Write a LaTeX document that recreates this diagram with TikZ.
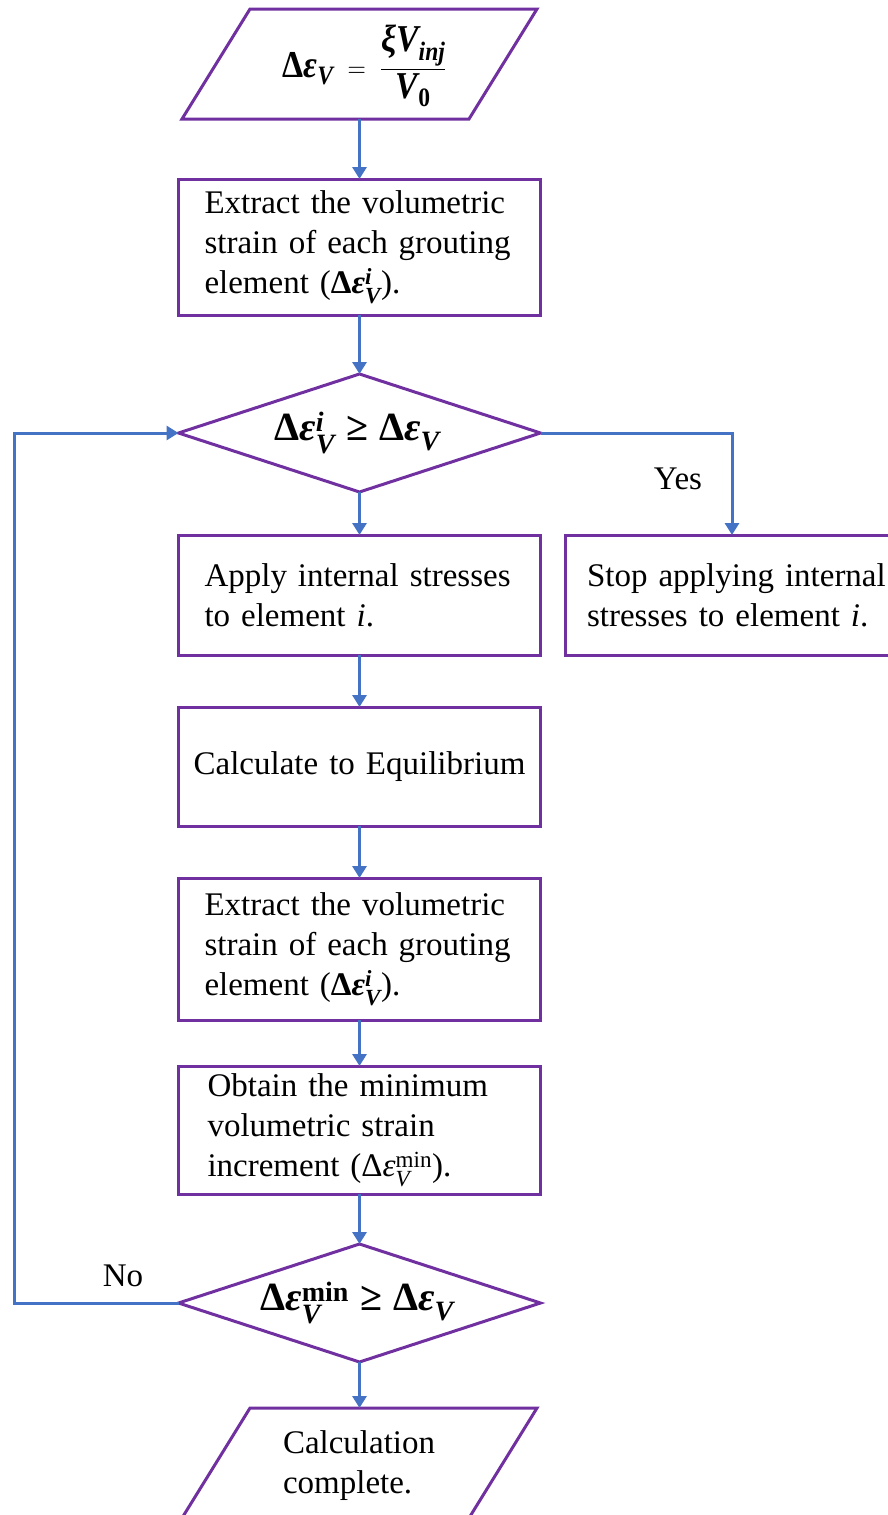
\documentclass[tikz,border=0pt]{standalone}
\usepackage{fontspec}
\usepackage{amsmath}
\usepackage{graphicx}
\setmainfont{Liberation Serif}
\usetikzlibrary{arrows.meta,calc}
\definecolor{fcpurple}{HTML}{7030A0}
\definecolor{fcblue}{HTML}{4472C4}
\newcommand{\BI}[1]{\text{\bfseries\itshape #1}}
\newcommand{\BR}[1]{\text{\bfseries #1}}
\newcommand{\RI}[1]{\text{\itshape #1}}
\begin{document}
\begin{tikzpicture}[x=1pt,y=-1pt,
  txt/.style={font=\fontsize{33}{40}\selectfont},
  box/.style={txt,draw=fcpurple,line width=3pt,rectangle,outer sep=0pt,
    minimum width=362,inner xsep=26,text width=310,align=left},
  shapebox/.style={rectangle,inner sep=0pt,outer sep=0pt,minimum width=#1},
  outline/.style={draw=fcpurple,line width=3pt,line join=miter},
  arr/.style={draw=fcblue,line width=3pt,-{Triangle[length=12pt,width=14pt]}}
]
\path[use as bounding box,clip] (0,0) rectangle (888,1515);

% top parallelogram
\node[shapebox=287,minimum height=110] (p1) at (359.5,64) {};
\draw[outline] ($(p1.north west)+(34,0)$) -- ($(p1.north east)+(34,0)$)
  -- ($(p1.south east)+(-34,0)$) -- ($(p1.south west)+(-34,0)$) -- cycle;
\node[font=\fontsize{33}{38}\selectfont] (f1) at (364.5,66)
  {\scalebox{1.02}[1.15]{$\BR{Δ}\BI{ε}_{\BI{V}} \mathrel{\;=\;} \dfrac{\BI{ξV}_{\BI{inj}}}{\BI{V}_{\BR{0}}}$}};

% box 1
\node[box,minimum height=136] (b1) at (359.5,247)
  {Extract the volumetric\\ strain of each grouting\\ element (\textbf{Δ}$\BI{ε}_{\BI{V}}^{\BI{i}}$).};

% diamond 1
\node[shapebox=362,minimum height=118] (d1) at (359.5,433) {};
\draw[outline] (d1.west) -- (d1.north) -- (d1.east) -- (d1.south) -- cycle;
\node[font=\fontsize{40}{46}\selectfont] (f2) at (357,433)
  {$\BR{Δ}\BI{ε}_{\BI{V}}^{\BI{i}} \mathrel{\,\BR{≥}\,} \BR{Δ}\BI{ε}_{\BI{V}}$};

% box 2
\node[box,minimum height=120] (b2) at (359.5,595)
  {Apply internal stresses\\ to element \textit{i}.};

% stop box
\node[box,minimum width=360,inner xsep=22,text width=316,minimum height=120,anchor=west] (s) at (565,595)
  {Stop applying internal\\ stresses to element \textit{i}.};
\node[txt] (yes) at (678,479) {Yes};

% box 3
\node[box,minimum height=119,inner xsep=6,text width=350,align=center] (b3) at (359.5,766.5)
  {Calculate to Equilibrium};

% box 4
\node[box,minimum height=142] (b4) at (359.5,949)
  {Extract the volumetric\\ strain of each grouting\\ element (\textbf{Δ}$\BI{ε}_{\BI{V}}^{\BI{i}}$).};

% box 5
\node[box,minimum height=128,inner xsep=29,text width=304] (b5) at (359.5,1130)
  {Obtain the minimum\\ volumetric strain\\ increment (Δ$\RI{ε}_{\RI{V}}^{\text{min}}$).};

% diamond 2
\node[shapebox=362,minimum height=118] (d2) at (359.5,1303) {};
\draw[outline] (d2.west) -- (d2.north) -- (d2.east) -- (d2.south) -- cycle;
\node[font=\fontsize{40}{46}\selectfont] (f3) at (357,1303)
  {$\BR{Δ}\BI{ε}_{\BI{V}}^{\BR{min}} \mathrel{\,\BR{≥}\,} \BR{Δ}\BI{ε}_{\BI{V}}$};
\node[txt] (no) at (123,1276) {No};

% bottom parallelogram
\node[shapebox=287,minimum height=110,txt,inner xsep=67,text width=153,align=left] (p2) at (359.5,1466)
  {Calculation\\ complete.};
\draw[outline] ($(p2.north west)+(34,-3)$) -- ($(p2.north east)+(34,-3)$)
  -- ($(p2.south east)+(-34,-3)$) -- ($(p2.south west)+(-34,-3)$) -- cycle;

% connectors
\draw[arr] (p1.south) -- (b1.north);
\draw[arr] (b1.south) -- (d1.north);
\draw[arr] (d1.south) -- (b2.north);
\draw[arr] (b2.south) -- (b3.north);
\draw[arr] (b3.south) -- (b4.north);
\draw[arr] (b4.south) -- (b5.north);
\draw[arr] (b5.south) -- (d2.north);
\draw[arr] (d2.south) -- ($(p2.north)+(0,-3)$);
\draw[arr] (d1.east) -| ($(s.north west)+(167,0)$);
\draw[arr] (d2.west) -- ++(-164,0) |- (d1.west);
\end{tikzpicture}
\end{document}
